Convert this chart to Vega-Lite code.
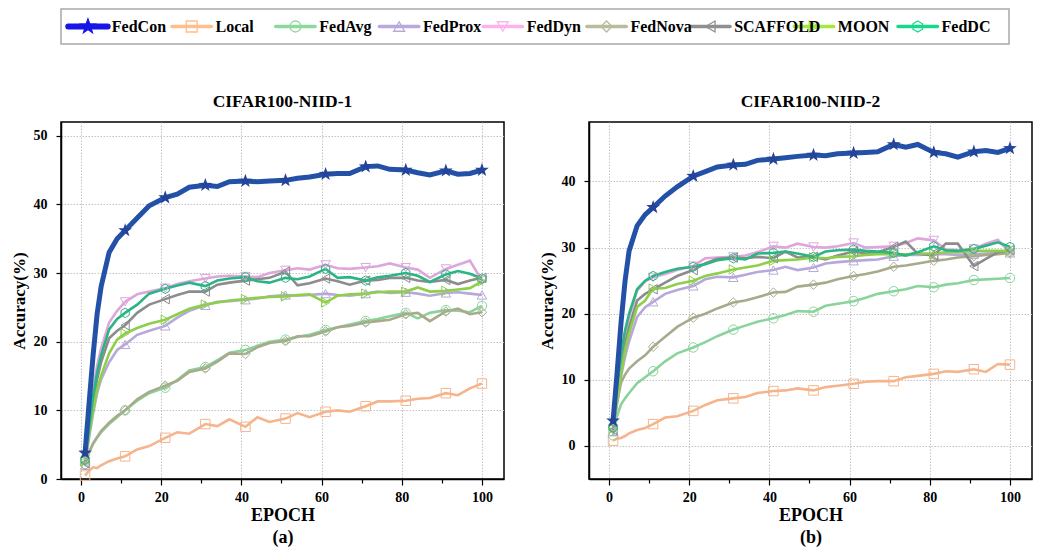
{
"$schema": "https://vega.github.io/schema/vega-lite/v6.json",
"padding": {"left": 9, "top": 8, "right": 2, "bottom": 0},
"datasets": {
"a": [
{"e":1,"FedCon":3.8,"Local":0.5,"FedAvg":2.2,"FedProx":2.0,"FedDyn":2.5,"FedNova":2.0,"SCAFFOLD":2.3,"MOON":2.6,"FedDC":2.8},
{"e":2,"FedCon":11,"Local":1.2,"FedAvg":3.8,"FedProx":6,"FedDyn":8,"FedNova":3.9,"SCAFFOLD":7,"MOON":6.5,"FedDC":7.5},
{"e":3,"FedCon":18,"Local":1.7,"FedAvg":5.1,"FedProx":9.5,"FedDyn":13,"FedNova":5.2,"SCAFFOLD":11,"MOON":10,"FedDC":12},
{"e":4,"FedCon":24,"Local":1.6,"FedAvg":6,"FedProx":12.5,"FedDyn":16.5,"FedNova":6.1,"SCAFFOLD":14.5,"MOON":13,"FedDC":15.5},
{"e":5,"FedCon":28,"Local":2,"FedAvg":6.8,"FedProx":14.5,"FedDyn":19,"FedNova":7,"SCAFFOLD":17,"MOON":15,"FedDC":18},
{"e":7,"FedCon":33,"Local":2.6,"FedAvg":8,"FedProx":17,"FedDyn":22.8,"FedNova":8.2,"SCAFFOLD":20.5,"MOON":18.3,"FedDC":21.8},
{"e":9,"FedCon":35,"Local":3,"FedAvg":9,"FedProx":18.8,"FedDyn":24.5,"FedNova":9.2,"SCAFFOLD":21.6,"MOON":20.3,"FedDC":23.3},
{"e":11,"FedCon":36.2,"Local":3.3,"FedAvg":10,"FedProx":19.6,"FedDyn":25.8,"FedNova":10,"SCAFFOLD":22.4,"MOON":21.2,"FedDC":24.2},
{"e":14,"FedCon":38,"Local":4.3,"FedAvg":11.4,"FedProx":21,"FedDyn":26.9,"FedNova":11.6,"SCAFFOLD":24.2,"MOON":22,"FedDC":25.4},
{"e":17,"FedCon":39.8,"Local":4.8,"FedAvg":12.5,"FedProx":21.6,"FedDyn":27.3,"FedNova":12.7,"SCAFFOLD":25.4,"MOON":22.6,"FedDC":27},
{"e":21,"FedCon":41,"Local":6,"FedAvg":13.3,"FedProx":22.3,"FedDyn":27.8,"FedNova":13.6,"SCAFFOLD":26.2,"MOON":23.2,"FedDC":27.7},
{"e":24,"FedCon":41.5,"Local":6.8,"FedAvg":14.4,"FedProx":23.5,"FedDyn":28.4,"FedNova":14.3,"SCAFFOLD":26.8,"MOON":24,"FedDC":28.2},
{"e":27,"FedCon":42.5,"Local":6.6,"FedAvg":15.8,"FedProx":24.5,"FedDyn":28.8,"FedNova":15.6,"SCAFFOLD":27.3,"MOON":24.8,"FedDC":28.6},
{"e":31,"FedCon":42.8,"Local":8,"FedAvg":16.3,"FedProx":25.3,"FedDyn":29.2,"FedNova":16.1,"SCAFFOLD":27.3,"MOON":25.4,"FedDC":28.1},
{"e":34,"FedCon":42.6,"Local":7.7,"FedAvg":17.3,"FedProx":25.8,"FedDyn":29.5,"FedNova":17.1,"SCAFFOLD":28.3,"MOON":25.7,"FedDC":28.9},
{"e":37,"FedCon":43.3,"Local":8.7,"FedAvg":18.4,"FedProx":25.9,"FedDyn":29.6,"FedNova":18.3,"SCAFFOLD":28.6,"MOON":26,"FedDC":29.2},
{"e":41,"FedCon":43.4,"Local":7.6,"FedAvg":18.8,"FedProx":26.1,"FedDyn":29.5,"FedNova":18.2,"SCAFFOLD":28.9,"MOON":26.2,"FedDC":29.4},
{"e":44,"FedCon":43.3,"Local":9,"FedAvg":19.4,"FedProx":26.3,"FedDyn":29.4,"FedNova":19.2,"SCAFFOLD":29.1,"MOON":26.4,"FedDC":28.8},
{"e":47,"FedCon":43.4,"Local":8.3,"FedAvg":20,"FedProx":26.6,"FedDyn":30,"FedNova":19.8,"SCAFFOLD":29.3,"MOON":26.5,"FedDC":28.6},
{"e":51,"FedCon":43.5,"Local":8.8,"FedAvg":20.3,"FedProx":26.8,"FedDyn":30.4,"FedNova":20.1,"SCAFFOLD":30.2,"MOON":26.6,"FedDC":29.3},
{"e":54,"FedCon":43.8,"Local":9.6,"FedAvg":20.7,"FedProx":26.7,"FedDyn":30.7,"FedNova":20.8,"SCAFFOLD":28.2,"MOON":26.8,"FedDC":29.1},
{"e":57,"FedCon":44,"Local":9,"FedAvg":21,"FedProx":26.8,"FedDyn":30.5,"FedNova":20.8,"SCAFFOLD":28.5,"MOON":26.9,"FedDC":29.5},
{"e":61,"FedCon":44.4,"Local":9.8,"FedAvg":21.7,"FedProx":27,"FedDyn":31.2,"FedNova":21.5,"SCAFFOLD":29.2,"MOON":25.7,"FedDC":30.6},
{"e":64,"FedCon":44.5,"Local":10,"FedAvg":22.1,"FedProx":26.8,"FedDyn":30.7,"FedNova":22.1,"SCAFFOLD":28.8,"MOON":26.7,"FedDC":29.3},
{"e":67,"FedCon":44.5,"Local":9.8,"FedAvg":22.5,"FedProx":26.7,"FedDyn":30.6,"FedNova":22.3,"SCAFFOLD":28.3,"MOON":26.9,"FedDC":29.4},
{"e":71,"FedCon":45.5,"Local":10.6,"FedAvg":23,"FedProx":27,"FedDyn":30.8,"FedNova":22.8,"SCAFFOLD":28.9,"MOON":27,"FedDC":28.9},
{"e":74,"FedCon":45.6,"Local":11.3,"FedAvg":23.3,"FedProx":27.3,"FedDyn":31,"FedNova":23,"SCAFFOLD":29,"MOON":27.2,"FedDC":29.4},
{"e":77,"FedCon":45.1,"Local":11.3,"FedAvg":23.7,"FedProx":27.1,"FedDyn":31.4,"FedNova":23.2,"SCAFFOLD":29.3,"MOON":27.3,"FedDC":29.6},
{"e":81,"FedCon":45,"Local":11.4,"FedAvg":24.2,"FedProx":27.2,"FedDyn":30.8,"FedNova":24,"SCAFFOLD":29.3,"MOON":27.3,"FedDC":30},
{"e":84,"FedCon":44.6,"Local":11.7,"FedAvg":23.4,"FedProx":27,"FedDyn":30.5,"FedNova":24.2,"SCAFFOLD":28.9,"MOON":27.9,"FedDC":29.6},
{"e":87,"FedCon":44.3,"Local":11.8,"FedAvg":24.2,"FedProx":26.7,"FedDyn":29.3,"FedNova":23,"SCAFFOLD":28.7,"MOON":27.3,"FedDC":28.7},
{"e":91,"FedCon":44.9,"Local":12.5,"FedAvg":24.6,"FedProx":27.1,"FedDyn":30.6,"FedNova":24.4,"SCAFFOLD":29,"MOON":27.4,"FedDC":29.8},
{"e":94,"FedCon":44.4,"Local":12.2,"FedAvg":24.5,"FedProx":27.2,"FedDyn":31.2,"FedNova":24.8,"SCAFFOLD":28.4,"MOON":27.6,"FedDC":30.3},
{"e":97,"FedCon":44.5,"Local":13.2,"FedAvg":24.3,"FedProx":27,"FedDyn":31.8,"FedNova":24,"SCAFFOLD":28.9,"MOON":27.8,"FedDC":29.9},
{"e":100,"FedCon":45,"Local":13.9,"FedAvg":25.2,"FedProx":26.8,"FedDyn":28.9,"FedNova":24.3,"SCAFFOLD":29.3,"MOON":28.8,"FedDC":29.2}
],
"b": [
{"e":1,"FedCon":3.8,"Local":0.8,"FedAvg":1.6,"FedProx":2.2,"FedDyn":2.6,"FedNova":2.8,"SCAFFOLD":2.4,"MOON":2.6,"FedDC":2.8},
{"e":2,"FedCon":11,"Local":1.1,"FedAvg":4.5,"FedProx":6.5,"FedDyn":8.5,"FedNova":6.5,"SCAFFOLD":7.5,"MOON":7,"FedDC":9},
{"e":3,"FedCon":18.7,"Local":1.2,"FedAvg":6.3,"FedProx":10.5,"FedDyn":13.5,"FedNova":9.6,"SCAFFOLD":12,"MOON":11,"FedDC":14},
{"e":4,"FedCon":25,"Local":1.5,"FedAvg":7.2,"FedProx":13.5,"FedDyn":17,"FedNova":10.8,"SCAFFOLD":15.5,"MOON":14.5,"FedDC":17.5},
{"e":5,"FedCon":29.5,"Local":1.9,"FedAvg":8,"FedProx":15.8,"FedDyn":19.5,"FedNova":11.7,"SCAFFOLD":18,"MOON":17,"FedDC":20},
{"e":7,"FedCon":33.3,"Local":2.4,"FedAvg":9.5,"FedProx":19.5,"FedDyn":23.5,"FedNova":12.8,"SCAFFOLD":22,"MOON":21,"FedDC":23.7},
{"e":9,"FedCon":35,"Local":2.7,"FedAvg":10.4,"FedProx":21,"FedDyn":24.9,"FedNova":13.7,"SCAFFOLD":23,"MOON":22,"FedDC":25},
{"e":11,"FedCon":36.1,"Local":3.3,"FedAvg":11.3,"FedProx":21.8,"FedDyn":25.5,"FedNova":15,"SCAFFOLD":23.7,"MOON":23.8,"FedDC":25.7},
{"e":14,"FedCon":37.8,"Local":4.3,"FedAvg":12.8,"FedProx":23,"FedDyn":26,"FedNova":16.5,"SCAFFOLD":24.7,"MOON":23.9,"FedDC":26.3},
{"e":17,"FedCon":39.2,"Local":4.5,"FedAvg":14,"FedProx":23.6,"FedDyn":26.6,"FedNova":18,"SCAFFOLD":25.7,"MOON":24.5,"FedDC":26.8},
{"e":21,"FedCon":40.8,"Local":5.3,"FedAvg":14.9,"FedProx":24.2,"FedDyn":27.2,"FedNova":19.4,"SCAFFOLD":26.6,"MOON":25,"FedDC":27.1},
{"e":24,"FedCon":41.5,"Local":6.2,"FedAvg":15.7,"FedProx":25.2,"FedDyn":28.4,"FedNova":20,"SCAFFOLD":27.6,"MOON":25.7,"FedDC":27.5},
{"e":27,"FedCon":42.2,"Local":6.9,"FedAvg":16.6,"FedProx":25.6,"FedDyn":28.5,"FedNova":20.8,"SCAFFOLD":28.3,"MOON":26.1,"FedDC":28.1},
{"e":31,"FedCon":42.5,"Local":7.2,"FedAvg":17.6,"FedProx":25.5,"FedDyn":28.6,"FedNova":21.7,"SCAFFOLD":28.5,"MOON":26.7,"FedDC":28.4},
{"e":34,"FedCon":42.6,"Local":7.4,"FedAvg":18.2,"FedProx":25.9,"FedDyn":28.8,"FedNova":22,"SCAFFOLD":28.4,"MOON":27,"FedDC":28.2},
{"e":37,"FedCon":43.2,"Local":8,"FedAvg":18.8,"FedProx":26.3,"FedDyn":29.3,"FedNova":22.5,"SCAFFOLD":28.6,"MOON":27.3,"FedDC":29.1},
{"e":41,"FedCon":43.4,"Local":8.3,"FedAvg":19.3,"FedProx":26.6,"FedDyn":30.2,"FedNova":23.2,"SCAFFOLD":28.4,"MOON":28,"FedDC":29.2},
{"e":44,"FedCon":43.6,"Local":8.4,"FedAvg":19.8,"FedProx":27.1,"FedDyn":30,"FedNova":23.3,"SCAFFOLD":29.4,"MOON":28.1,"FedDC":29.4},
{"e":47,"FedCon":43.8,"Local":8.7,"FedAvg":20.4,"FedProx":26.6,"FedDyn":30.6,"FedNova":24.1,"SCAFFOLD":28.5,"MOON":28.2,"FedDC":29.1},
{"e":51,"FedCon":44,"Local":8.4,"FedAvg":20.3,"FedProx":27,"FedDyn":30.1,"FedNova":24.4,"SCAFFOLD":28.6,"MOON":28.5,"FedDC":28.6},
{"e":54,"FedCon":43.9,"Local":8.9,"FedAvg":21.2,"FedProx":27.6,"FedDyn":30,"FedNova":24.7,"SCAFFOLD":28.2,"MOON":28.4,"FedDC":29.4},
{"e":57,"FedCon":44.2,"Local":9.1,"FedAvg":21.5,"FedProx":27.8,"FedDyn":30.2,"FedNova":25.2,"SCAFFOLD":28.8,"MOON":28.6,"FedDC":29.6},
{"e":61,"FedCon":44.3,"Local":9.4,"FedAvg":21.9,"FedProx":28,"FedDyn":30.7,"FedNova":25.7,"SCAFFOLD":29.4,"MOON":28.7,"FedDC":29.7},
{"e":64,"FedCon":44.4,"Local":9.7,"FedAvg":22.4,"FedProx":28.1,"FedDyn":30,"FedNova":26,"SCAFFOLD":29.1,"MOON":28.9,"FedDC":29.5},
{"e":67,"FedCon":44.5,"Local":9.8,"FedAvg":23,"FedProx":28.2,"FedDyn":30.1,"FedNova":26.4,"SCAFFOLD":29.3,"MOON":29,"FedDC":29.4},
{"e":71,"FedCon":45.6,"Local":9.8,"FedAvg":23.4,"FedProx":28.7,"FedDyn":30.2,"FedNova":27.1,"SCAFFOLD":30.1,"MOON":29,"FedDC":29.2},
{"e":74,"FedCon":45.2,"Local":10.4,"FedAvg":23.7,"FedProx":28.9,"FedDyn":30.7,"FedNova":27.3,"SCAFFOLD":30.9,"MOON":29,"FedDC":28.8},
{"e":77,"FedCon":45.6,"Local":10.6,"FedAvg":24.2,"FedProx":28.9,"FedDyn":31.4,"FedNova":27.6,"SCAFFOLD":29.1,"MOON":29.1,"FedDC":29.3},
{"e":81,"FedCon":44.4,"Local":10.9,"FedAvg":24,"FedProx":29,"FedDyn":31.1,"FedNova":28,"SCAFFOLD":28.8,"MOON":29.1,"FedDC":30.2},
{"e":84,"FedCon":44.2,"Local":11.3,"FedAvg":24.4,"FedProx":29,"FedDyn":29.7,"FedNova":28.2,"SCAFFOLD":30.6,"MOON":29.3,"FedDC":29.6},
{"e":87,"FedCon":43.7,"Local":11.2,"FedAvg":24.6,"FedProx":28.9,"FedDyn":29.6,"FedNova":28.5,"SCAFFOLD":30.6,"MOON":29.3,"FedDC":29.5},
{"e":91,"FedCon":44.5,"Local":11.6,"FedAvg":25.1,"FedProx":29,"FedDyn":29.8,"FedNova":28.7,"SCAFFOLD":27.2,"MOON":29.5,"FedDC":29.8},
{"e":94,"FedCon":44.7,"Local":11.2,"FedAvg":25.2,"FedProx":29.1,"FedDyn":30.6,"FedNova":28.9,"SCAFFOLD":28.3,"MOON":29.5,"FedDC":30.3},
{"e":97,"FedCon":44.4,"Local":12.4,"FedAvg":25.3,"FedProx":29.2,"FedDyn":31.2,"FedNova":29,"SCAFFOLD":29.3,"MOON":29.5,"FedDC":30.8},
{"e":100,"FedCon":45,"Local":12.3,"FedAvg":25.4,"FedProx":29.2,"FedDyn":29.2,"FedNova":29.2,"SCAFFOLD":29.6,"MOON":29.5,"FedDC":30.1}
],
"methods": [
{"m":"FedCon"},{"m":"Local"},{"m":"FedAvg"},{"m":"FedProx"},{"m":"FedDyn"},{"m":"FedNova"},{"m":"SCAFFOLD"},{"m":"MOON"},{"m":"FedDC"}
]
},
"spacing": 46,
"resolve": {"scale": {"color": "independent", "shape": "independent", "fill": "independent", "size": "independent"}},
"vconcat": [
{
"data": {"name": "methods"},
"width": 948,
"height": 35,
"view": {"stroke": "#a8a8a8", "strokeWidth": 1.5},
"encoding": {
"y": {"datum": 0, "type": "quantitative", "scale": {"domain": [-1, 1]},
"axis": {"labels": false, "ticks": false, "domain": false, "grid": false, "title": null, "minExtent": 49, "maxExtent": 49}},
"color": {"field": "m", "type": "nominal", "legend": null,
"scale": {"domain": ["FedCon","Local","FedAvg","FedProx","FedDyn","FedNova","SCAFFOLD","MOON","FedDC"],
"range": ["#1616e8","#fdbf8f","#8dd99c","#b9a9da","#fdb2ec","#b9bc9b","#8f8f8f","#a4ea3e","#14d98d"]}}
},
"layer": [
{"mark": {"type": "rule", "strokeCap": "round"},
"encoding": {
"x": {"field": "m", "type": "nominal", "sort": null, "bandPosition": 0, "scale": {"type": "band", "paddingInner": 0, "paddingOuter": 0.07}, "axis": null},
"x2": {"field": "m", "bandPosition": 0.38},
"strokeWidth": {"condition": {"test": "datum.m === 'FedCon'", "value": 6}, "value": 3.5}
}},
{"mark": {"type": "point", "filled": false, "opacity": 1, "strokeWidth": 1.3},
"encoding": {
"x": {"field": "m", "type": "nominal", "sort": null, "bandPosition": 0.19, "scale": {"type": "band", "paddingInner": 0, "paddingOuter": 0.07}, "axis": null},
"shape": {"field": "m", "type": "nominal", "legend": null,
"scale": {"domain": ["FedCon","Local","FedAvg","FedProx","FedDyn","FedNova","SCAFFOLD","MOON","FedDC"],
"range": ["M0,-1L0.235,-0.324L0.951,-0.309L0.38,0.124L0.588,0.809L0,0.4L-0.588,0.809L-0.38,0.124L-0.951,-0.309L-0.235,-0.324Z","square","circle","triangle-up","triangle-down","diamond","triangle-left","triangle-right","M0,-1L0.866,-0.5L0.866,0.5L0,1L-0.866,0.5L-0.866,-0.5Z"]}},
"fill": {"condition": {"test": "datum.m === 'FedCon'", "value": "#1616e8"}, "value": "transparent"},
"size": {"condition": {"test": "datum.m === 'FedCon'", "value": 230}, "value": 120}
}},
{"mark": {"type": "text", "align": "left", "baseline": "middle", "font": "Liberation Serif", "fontWeight": "bold", "fontSize": 16, "color": "black"},
"encoding": {
"x": {"field": "m", "type": "nominal", "sort": null, "bandPosition": 0.42, "scale": {"type": "band", "paddingInner": 0, "paddingOuter": 0.07}, "axis": null},
"text": {"field": "m"},
"color": {"value": "black"}
}}
]
},
{
"hconcat": [
{
"data": {"name": "a"},
"transform": [{"fold": ["FedCon","Local","FedAvg","FedProx","FedDyn","FedNova","SCAFFOLD","MOON","FedDC"], "as": ["m", "v"]}],
"width": 443,
"height": 357,
"title": {"text": "CIFAR100-NIID-1"},
"encoding": {
"x": {"field": "e", "type": "quantitative", "scale": {"domain": [-5, 105.5], "nice": false, "zero": false},
"axis": {"values": [0,10,20,30,40,50,60,70,80,90,100], "labelExpr": "datum.value % 20 === 0 ? datum.label : ''",
"gridOpacity": {"condition": {"test": "datum.value % 20 === 0", "value": 1}, "value": 0},
"tickSize": {"condition": {"test": "datum.value % 20 === 0", "value": 6}, "value": 4},
"title": ["EPOCH", "(a)"], "titleLineHeight": 22, "labelPadding": 5, "titlePadding": 2}},
"y": {"field": "v", "type": "quantitative", "scale": {"domain": [0, 52], "nice": false},
"axis": {"values": [0,10,20,30,40,50], "title": "Accuracy(%)", "labelPadding": 9, "titlePadding": 5}}
},
"layer": [
{"transform": [{"filter": "datum.m !== 'FedCon'"}],
"mark": {"type": "line", "strokeWidth": 2.6},
"encoding": {"color": {"field": "m", "type": "nominal", "legend": null,
"scale": {"domain": ["FedCon","Local","FedAvg","FedProx","FedDyn","FedNova","SCAFFOLD","MOON","FedDC"],
"range": ["#2451a8","#f6b48c","#8ad49c","#b7a8da","#dea6dd","#a9aa8b","#8c8c8c","#8ecf4a","#2bb585"]}}}},
{"transform": [{"filter": "datum.m !== 'FedCon'"}, {"filter": {"field": "e", "oneOf": [1,11,21,31,41,51,61,71,81,91,100]}}],
"mark": {"type": "point", "filled": false, "opacity": 1, "size": 90, "strokeWidth": 1},
"encoding": {
"color": {"field": "m", "type": "nominal", "legend": null,
"scale": {"domain": ["FedCon","Local","FedAvg","FedProx","FedDyn","FedNova","SCAFFOLD","MOON","FedDC"],
"range": ["#2451a8","#f6b48c","#8ad49c","#b7a8da","#dea6dd","#a9aa8b","#8c8c8c","#8ecf4a","#2bb585"]}},
"shape": {"field": "m", "type": "nominal", "legend": null,
"scale": {"domain": ["Local","FedAvg","FedProx","FedDyn","FedNova","SCAFFOLD","MOON","FedDC"],
"range": ["square","circle","triangle-up","triangle-down","diamond","triangle-left","triangle-right","M0,-1L0.866,-0.5L0.866,0.5L0,1L-0.866,0.5L-0.866,-0.5Z"]}}}},
{"transform": [{"filter": "datum.m === 'FedCon'"}],
"mark": {"type": "line", "strokeWidth": 5, "color": "#2451a8"},
"encoding": {}},
{"transform": [{"filter": "datum.m === 'FedCon'"}, {"filter": {"field": "e", "oneOf": [1,11,21,31,41,51,61,71,81,91,100]}}],
"mark": {"type": "point", "filled": true, "opacity": 1, "size": 210, "color": "#24449a",
"shape": "M0,-1L0.235,-0.324L0.951,-0.309L0.38,0.124L0.588,0.809L0,0.4L-0.588,0.809L-0.38,0.124L-0.951,-0.309L-0.235,-0.324Z"},
"encoding": {}}
]
},
{
"data": {"name": "b"},
"transform": [{"fold": ["FedCon","Local","FedAvg","FedProx","FedDyn","FedNova","SCAFFOLD","MOON","FedDC"], "as": ["m", "v"]}],
"width": 443,
"height": 357,
"title": {"text": "CIFAR100-NIID-2"},
"encoding": {
"x": {"field": "e", "type": "quantitative", "scale": {"domain": [-5, 105.5], "nice": false, "zero": false},
"axis": {"values": [0,10,20,30,40,50,60,70,80,90,100], "labelExpr": "datum.value % 20 === 0 ? datum.label : ''",
"gridOpacity": {"condition": {"test": "datum.value % 20 === 0", "value": 1}, "value": 0},
"tickSize": {"condition": {"test": "datum.value % 20 === 0", "value": 6}, "value": 4},
"title": ["EPOCH", "(b)"], "titleLineHeight": 22, "labelPadding": 5, "titlePadding": 2}},
"y": {"field": "v", "type": "quantitative", "scale": {"domain": [-5, 49], "nice": false, "zero": false},
"axis": {"values": [0,10,20,30,40], "title": "Accuracy(%)", "labelPadding": 9, "titlePadding": 5}}
},
"layer": [
{"transform": [{"filter": "datum.m !== 'FedCon'"}],
"mark": {"type": "line", "strokeWidth": 2.6},
"encoding": {"color": {"field": "m", "type": "nominal", "legend": null,
"scale": {"domain": ["FedCon","Local","FedAvg","FedProx","FedDyn","FedNova","SCAFFOLD","MOON","FedDC"],
"range": ["#2451a8","#f6b48c","#8ad49c","#b7a8da","#dea6dd","#a9aa8b","#8c8c8c","#8ecf4a","#2bb585"]}}}},
{"transform": [{"filter": "datum.m !== 'FedCon'"}, {"filter": {"field": "e", "oneOf": [1,11,21,31,41,51,61,71,81,91,100]}}],
"mark": {"type": "point", "filled": false, "opacity": 1, "size": 90, "strokeWidth": 1},
"encoding": {
"color": {"field": "m", "type": "nominal", "legend": null,
"scale": {"domain": ["FedCon","Local","FedAvg","FedProx","FedDyn","FedNova","SCAFFOLD","MOON","FedDC"],
"range": ["#2451a8","#f6b48c","#8ad49c","#b7a8da","#dea6dd","#a9aa8b","#8c8c8c","#8ecf4a","#2bb585"]}},
"shape": {"field": "m", "type": "nominal", "legend": null,
"scale": {"domain": ["Local","FedAvg","FedProx","FedDyn","FedNova","SCAFFOLD","MOON","FedDC"],
"range": ["square","circle","triangle-up","triangle-down","diamond","triangle-left","triangle-right","M0,-1L0.866,-0.5L0.866,0.5L0,1L-0.866,0.5L-0.866,-0.5Z"]}}}},
{"transform": [{"filter": "datum.m === 'FedCon'"}],
"mark": {"type": "line", "strokeWidth": 5, "color": "#2451a8"},
"encoding": {}},
{"transform": [{"filter": "datum.m === 'FedCon'"}, {"filter": {"field": "e", "oneOf": [1,11,21,31,41,51,61,71,81,91,100]}}],
"mark": {"type": "point", "filled": true, "opacity": 1, "size": 210, "color": "#24449a",
"shape": "M0,-1L0.235,-0.324L0.951,-0.309L0.38,0.124L0.588,0.809L0,0.4L-0.588,0.809L-0.38,0.124L-0.951,-0.309L-0.235,-0.324Z"},
"encoding": {}}
]
}
],
"spacing": 32
}
],
"config": {
"font": "Liberation Serif",
"view": {"stroke": "black", "strokeWidth": 1.5},
"axis": {"labelFont": "Liberation Serif", "labelFontWeight": "bold", "labelFontSize": 14, "labelColor": "black",
"titleFont": "Liberation Serif", "titleFontWeight": "bold", "titleFontSize": 18, "titleColor": "black",
"domainColor": "black", "domainWidth": 1.5, "tickColor": "black", "tickWidth": 1.2,
"gridColor": "#c4c4c4", "gridDash": [1.5, 1.5], "gridWidth": 1},
"axisY": {"titleFontSize": 17},
"title": {"font": "Liberation Serif", "fontSize": 17.5, "fontWeight": "bold", "color": "black", "offset": 12}
}
}
